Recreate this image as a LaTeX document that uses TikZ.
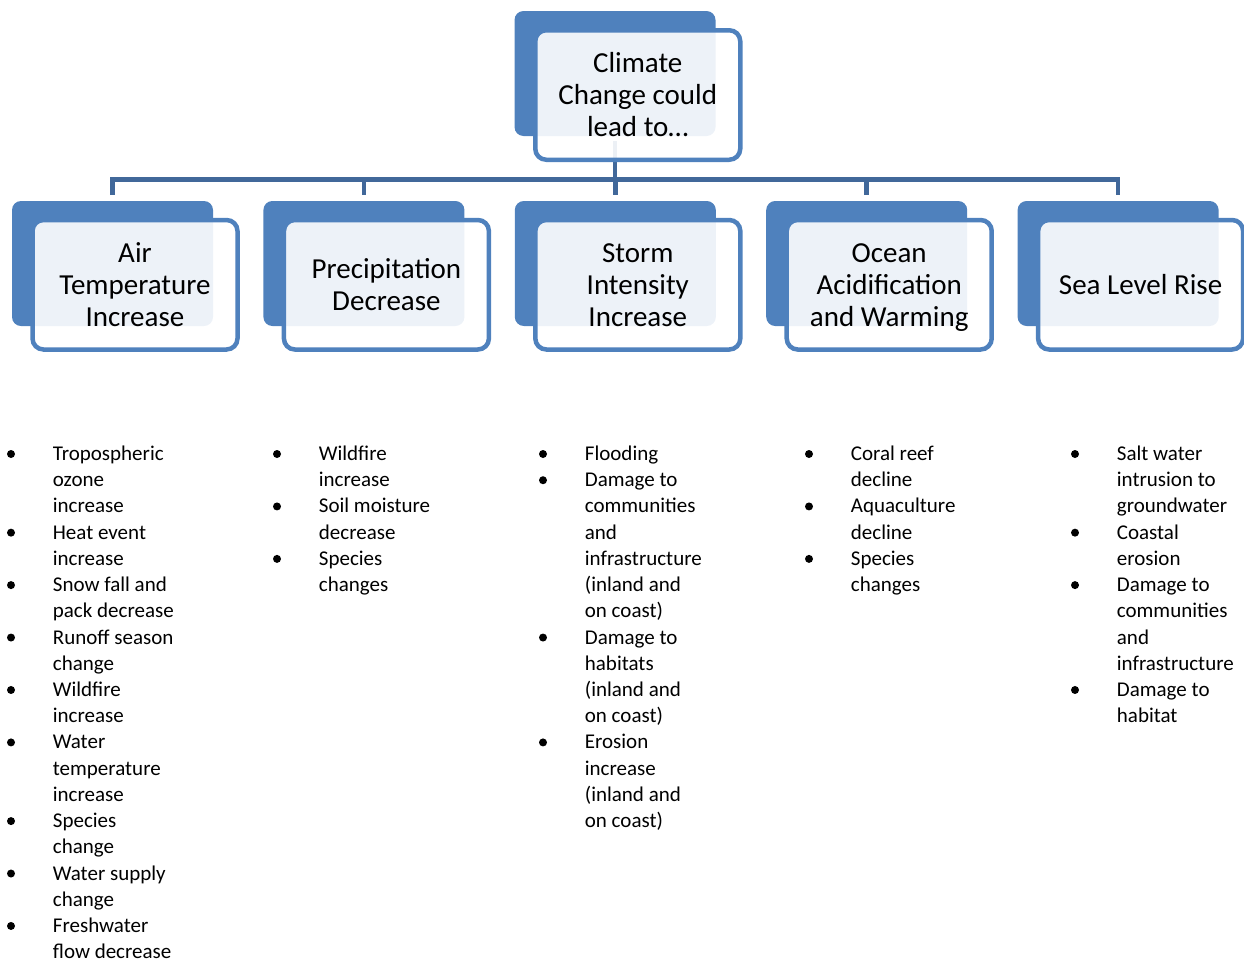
\documentclass[tikz,border=0pt]{standalone}
\usepackage{fontspec}
\setmainfont{Carlito}
\definecolor{accent}{HTML}{4F81BD}
\definecolor{connblue}{HTML}{41689A}
\tikzset{
  backbox/.style={fill=accent, draw=none, rounded corners=9pt, minimum width=201pt, minimum height=125pt, inner sep=0pt},
  frontbox/.style={draw=accent, line width=4.5pt, fill=white, fill opacity=0.9, text opacity=1, rounded corners=11pt,
    minimum width=205pt, minimum height=129.5pt, inner sep=0pt, align=center, font=\fontsize{29}{32}\selectfont},
  connline/.style={draw=connblue, line width=4.5pt},
  listtxt/.style={anchor=base west, inner sep=0pt, font=\fontsize{21}{26.22}\selectfont},
  bul/.style={fill=black}
}
\begin{document}
\begin{tikzpicture}[x=1pt,y=-1pt]
\useasboundingbox (0,0) rectangle (1244,961);
% back rectangles
\node[backbox] (tb) at (615,73.5) {};
\node[backbox] (b1) at (112.5,263.5) {};
\node[backbox] (b2) at (363.9,263.5) {};
\node[backbox] (b3) at (615.3,263.5) {};
\node[backbox] (b4) at (866.7,263.5) {};
\node[backbox] (b5) at (1118.1,263.5) {};
% connectors
\coordinate (busL) at (110.25,179.5);
\coordinate (busR) at (1120.35,179.5);
\draw[connline] ([yshift=-5pt]tb.south) -- (tb.south |- busL);
\draw[connline] (busL) -- (busR);
\foreach \i in {1,...,5}{
  \draw[connline] (b\i.north |- busL) -- ([yshift=6pt]b\i.north);
}
% front boxes
\node[frontbox] (tf) at (637.75,95) {Climate\\Change could\\lead to\ldots};
\node[frontbox] (f1) at (135,284.75) {Air\\Temperature\\Increase};
\node[frontbox] (f2) at (386.4,284.75) {Precipitation\\Decrease};
\node[frontbox] (f3) at (637.8,284.75) {Storm\\Intensity\\Increase};
\node[frontbox] (f4) at (889.2,284.75) {Ocean\\Acidification\\\raisebox{0pt}[\height][0pt]{and Warming}};
\node[frontbox] (f5) at (1140.6,284.75) {Sea Level Rise};
% bullet lists
\foreach \k in {0,3,5,7,9,11,14,16,18} \fill[bul] (11,{454+26.22*\k}) circle (4pt);
\foreach \k in {0,2,4} \fill[bul] (277,{454+26.22*\k}) circle (4pt);
\foreach \k in {0,1,7,11} \fill[bul] (543,{454+26.22*\k}) circle (4pt);
\foreach \k in {0,2,4} \fill[bul] (809,{454+26.22*\k}) circle (4pt);
\foreach \k in {0,3,5,9} \fill[bul] (1075,{454+26.22*\k}) circle (4pt);
\node[listtxt] (l1) at (52.7,460.5) {\begin{tabular}[t]{@{}l@{}}Tropospheric\\ozone\\increase\\Heat event\\increase\\Snow fall and\\pack decrease\\Runoff season\\change\\Wildfire\\increase\\Water\\temperature\\increase\\Species\\change\\Water supply\\change\\Freshwater\\flow decrease\end{tabular}};
\node[listtxt] (l2) at (318.7,460.5) {\begin{tabular}[t]{@{}l@{}}Wildfire\\increase\\Soil moisture\\decrease\\Species\\changes\end{tabular}};
\node[listtxt] (l3) at (584.7,460.5) {\begin{tabular}[t]{@{}l@{}}Flooding\\Damage to\\communities\\and\\infrastructure\\(inland and\\on coast)\\Damage to\\habitats\\(inland and\\on coast)\\Erosion\\increase\\(inland and\\on coast)\end{tabular}};
\node[listtxt] (l4) at (850.7,460.5) {\begin{tabular}[t]{@{}l@{}}Coral reef\\decline\\Aquaculture\\decline\\Species\\changes\end{tabular}};
\node[listtxt] (l5) at (1116.7,460.5) {\begin{tabular}[t]{@{}l@{}}Salt water\\intrusion to\\groundwater\\Coastal\\erosion\\Damage to\\communities\\and\\infrastructure\\Damage to\\habitat\end{tabular}};
\end{tikzpicture}
\end{document}
